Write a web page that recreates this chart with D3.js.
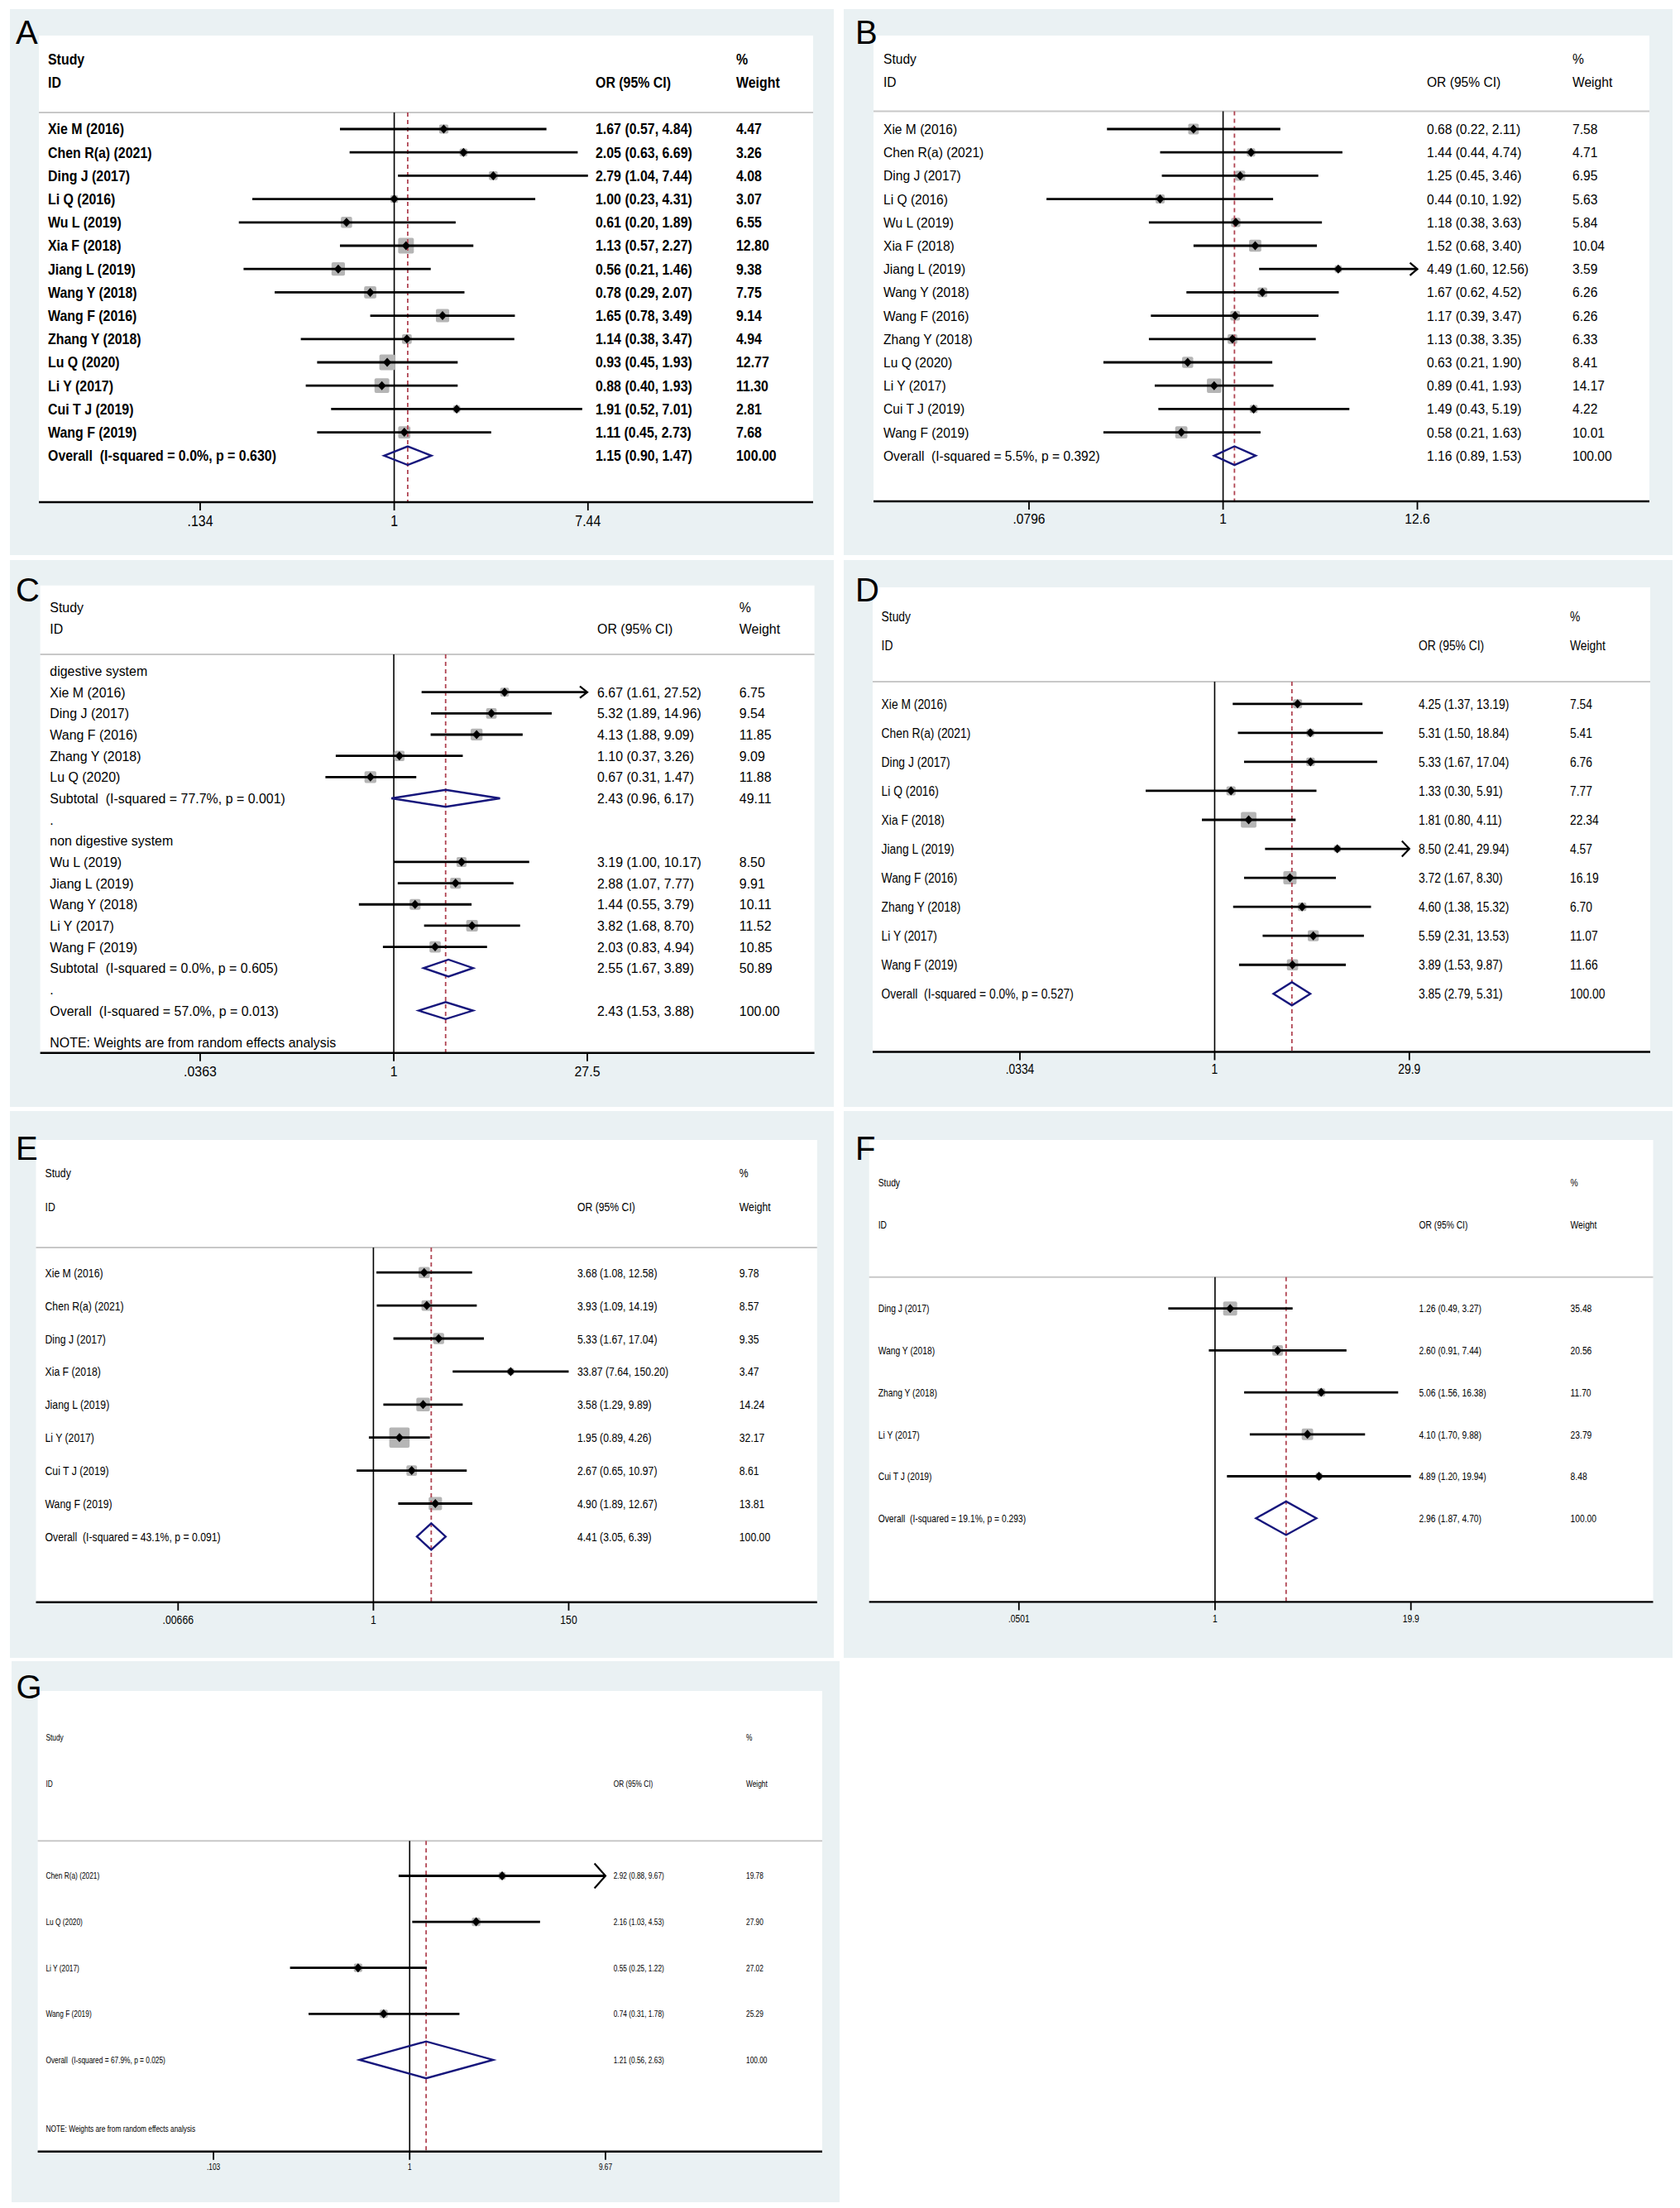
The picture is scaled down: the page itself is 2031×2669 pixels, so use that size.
<!DOCTYPE html>
<html>
<head>
<meta charset="utf-8">
<script src="https://cdn.jsdelivr.net/npm/d3@7"></script>
<style>
  body { margin: 0; background: #fff; }
  svg { display: block; }
</style>
</head>
<body>
<svg id="fig" width="2031" height="2669"></svg>
<script>
// ---------- data ----------

// A
var aStudies = ["Xie M (2016)", "Chen R(a) (2021)", "Ding J (2017)", "Li Q (2016)", "Wu L (2019)", "Xia F (2018)", "Jiang L (2019)",
                "Wang Y (2018)", "Wang F (2016)", "Zhang Y (2018)", "Lu Q (2020)", "Li Y (2017)", "Cui T J (2019)", "Wang F (2019)"];
var aOR = [1.67, 2.05, 2.79, 1.00, 0.61, 1.13, 0.56, 0.78, 1.65, 1.14, 0.93, 0.88, 1.91, 1.11];
var aLo = [0.57, 0.63, 1.04, 0.23, 0.20, 0.57, 0.21, 0.29, 0.78, 0.38, 0.45, 0.40, 0.52, 0.45];
var aHi = [4.84, 6.69, 7.44, 4.31, 1.89, 2.27, 1.46, 2.07, 3.49, 3.47, 1.93, 1.93, 7.01, 2.73];
var aWeight = [4.47, 3.26, 4.08, 3.07, 6.55, 12.80, 9.38, 7.75, 9.14, 4.94, 12.77, 11.30, 2.81, 7.68];
var aOverall = [1.15, 0.90, 1.47];
var aOverallLabel = "Overall  (I-squared = 0.0%, p = 0.630)";
var aTicks = [0.134, 1, 7.44];
var aTickLabels = [".134", "1", "7.44"];

// B
var bStudies = aStudies;
var bOR = [0.68, 1.44, 1.25, 0.44, 1.18, 1.52, 4.49, 1.67, 1.17, 1.13, 0.63, 0.89, 1.49, 0.58];
var bLo = [0.22, 0.44, 0.45, 0.10, 0.38, 0.68, 1.60, 0.62, 0.39, 0.38, 0.21, 0.41, 0.43, 0.21];
var bHi = [2.11, 4.74, 3.46, 1.92, 3.63, 3.40, 12.56, 4.52, 3.47, 3.35, 1.90, 1.93, 5.19, 1.63];
var bWeight = [7.58, 4.71, 6.95, 5.63, 5.84, 10.04, 3.59, 6.26, 6.26, 6.33, 8.41, 14.17, 4.22, 10.01];
var bOverall = [1.16, 0.89, 1.53];
var bOverallLabel = "Overall  (I-squared = 5.5%, p = 0.392)";
var bTicks = [0.0796, 1, 12.6];
var bTickLabels = [".0796", "1", "12.6"];

// C (subgroups)
var cGroups = ["digestive system", "non digestive system"];
var cStudies = ["Xie M (2016)", "Ding J (2017)", "Wang F (2016)", "Zhang Y (2018)", "Lu Q (2020)",
                "Wu L (2019)", "Jiang L (2019)", "Wang Y (2018)", "Li Y (2017)", "Wang F (2019)"];
var cGroupOf = [0, 0, 0, 0, 0, 1, 1, 1, 1, 1];
var cOR = [6.67, 5.32, 4.13, 1.10, 0.67, 3.19, 2.88, 1.44, 3.82, 2.03];
var cLo = [1.61, 1.89, 1.88, 0.37, 0.31, 1.00, 1.07, 0.55, 1.68, 0.83];
var cHi = [27.52, 14.96, 9.09, 3.26, 1.47, 10.17, 7.77, 3.79, 8.70, 4.94];
var cWeight = [6.75, 9.54, 11.85, 9.09, 11.88, 8.50, 9.91, 10.11, 11.52, 10.85];
var cSubOR = [2.43, 2.55];
var cSubLo = [0.96, 1.67];
var cSubHi = [6.17, 3.89];
var cSubWeight = [49.11, 50.89];
var cSubLabel = ["Subtotal  (I-squared = 77.7%, p = 0.001)", "Subtotal  (I-squared = 0.0%, p = 0.605)"];
var cOverall = [2.43, 1.53, 3.88];
var cOverallLabel = "Overall  (I-squared = 57.0%, p = 0.013)";
var cTicks = [0.0363, 1, 27.5];
var cTickLabels = [".0363", "1", "27.5"];

// D
var dStudies = ["Xie M (2016)", "Chen R(a) (2021)", "Ding J (2017)", "Li Q (2016)", "Xia F (2018)", "Jiang L (2019)",
                "Wang F (2016)", "Zhang Y (2018)", "Li Y (2017)", "Wang F (2019)"];
var dOR = [4.25, 5.31, 5.33, 1.33, 1.81, 8.50, 3.72, 4.60, 5.59, 3.89];
var dLo = [1.37, 1.50, 1.67, 0.30, 0.80, 2.41, 1.67, 1.38, 2.31, 1.53];
var dHi = [13.19, 18.84, 17.04, 5.91, 4.11, 29.94, 8.30, 15.32, 13.53, 9.87];
var dWeight = [7.54, 5.41, 6.76, 7.77, 22.34, 4.57, 16.19, 6.70, 11.07, 11.66];
var dOverall = [3.85, 2.79, 5.31];
var dOverallLabel = "Overall  (I-squared = 0.0%, p = 0.527)";
var dTicks = [0.0334, 1, 29.9];
var dTickLabels = [".0334", "1", "29.9"];

// E
var eStudies = ["Xie M (2016)", "Chen R(a) (2021)", "Ding J (2017)", "Xia F (2018)", "Jiang L (2019)", "Li Y (2017)",
                "Cui T J (2019)", "Wang F (2019)"];
var eOR = [3.68, 3.93, 5.33, 33.87, 3.58, 1.95, 2.67, 4.90];
var eLo = [1.08, 1.09, 1.67, 7.64, 1.29, 0.89, 0.65, 1.89];
var eHi = [12.58, 14.19, 17.04, 150.20, 9.89, 4.26, 10.97, 12.67];
var eWeight = [9.78, 8.57, 9.35, 3.47, 14.24, 32.17, 8.61, 13.81];
var eOverall = [4.41, 3.05, 6.39];
var eOverallLabel = "Overall  (I-squared = 43.1%, p = 0.091)";
var eTicks = [0.00666, 1, 150];
var eTickLabels = [".00666", "1", "150"];

// F
var fStudies = ["Ding J (2017)", "Wang Y (2018)", "Zhang Y (2018)", "Li Y (2017)", "Cui T J (2019)"];
var fOR = [1.26, 2.60, 5.06, 4.10, 4.89];
var fLo = [0.49, 0.91, 1.56, 1.70, 1.20];
var fHi = [3.27, 7.44, 16.38, 9.88, 19.94];
var fWeight = [35.48, 20.56, 11.70, 23.79, 8.48];
var fOverall = [2.96, 1.87, 4.70];
var fOverallLabel = "Overall  (I-squared = 19.1%, p = 0.293)";
var fTicks = [0.0501, 1, 19.9];
var fTickLabels = [".0501", "1", "19.9"];

// G
var gStudies = ["Chen R(a) (2021)", "Lu Q (2020)", "Li Y (2017)", "Wang F (2019)"];
var gOR = [2.92, 2.16, 0.55, 0.74];
var gLo = [0.88, 1.03, 0.25, 0.31];
var gHi = [9.67, 4.53, 1.22, 1.78];
var gWeight = [19.78, 27.90, 27.02, 25.29];
var gOverall = [1.21, 0.56, 2.63];
var gOverallLabel = "Overall  (I-squared = 67.9%, p = 0.025)";
var gTicks = [0.103, 1, 9.67];
var gTickLabels = [".103", "1", "9.67"];

var noteText = "NOTE: Weights are from random effects analysis";

// ---------- layout (pixel positions per panel) ----------
var layout = {
  A: { letter: "A", bg: [12, 11, 996, 660], plot: [47, 43, 983, 607], head: 136, studyY: 72, idY: 100,
       row0: 156, step: 28.2, range: [242, 710.8], labX: 58, orX: 720, wX: 890, tickY: 630,
       lx: 19, ly: 53, fs: 17.5, sx: 0.91, bold: true, box: 5.3, arrow: [] },
  B: { letter: "B", bg: [1020, 11, 1002, 660], plot: [1056, 43, 1994, 606], head: 134.6, studyY: 71.4, idY: 99.2,
       row0: 156, step: 28.2, range: [1244, 1713.5], labX: 1068, orX: 1725, wX: 1901, tickY: 627,
       lx: 1034, ly: 53, fs: 16.5, sx: 0.945, bold: false, box: 4.65, arrow: [6] },
  C: { letter: "C", bg: [12, 677, 996, 661], plot: [48.6, 707.7, 984.6, 1272.8], head: 791, studyY: 733.7, idY: 759.8,
       row0: 811, step: 25.66, range: [242, 710], labX: 60.3, orX: 722, wX: 893.8, tickY: 1294.5,
       lx: 19, ly: 727, fs: 16.8, sx: 0.95, bold: false, box: 4.15, arrow: [0] },
  D: { letter: "D", bg: [1020, 677, 1002, 661], plot: [1055, 710, 1995, 1271.5], head: 824, studyY: 745.4, idY: 780.6,
       row0: 850.8, step: 35.05, range: [1233, 1703.8], labX: 1065.6, orX: 1715, wX: 1898, tickY: 1292.3,
       lx: 1034, ly: 727, fs: 16.3, sx: 0.85, bold: false, box: 3.98, arrow: [5] },
  E: { letter: "E", bg: [12, 1343, 996, 661], plot: [43.5, 1378, 987.8, 1936.8], head: 1508, studyY: 1417.7, idY: 1458.6,
       row0: 1538.2, step: 39.9, range: [215.3, 687.5], labX: 54.5, orX: 697.9, wX: 893.8, tickY: 1957,
       lx: 19, ly: 1401.7, fs: 15.5, sx: 0.79, bold: false, box: 4.34, arrow: [] },
  F: { letter: "F", bg: [1020, 1343, 1002, 661], plot: [1050.7, 1378, 1998.5, 1936.4], head: 1543.8, studyY: 1429.7, idY: 1480.5,
       row0: 1581.7, step: 50.7, range: [1231.8, 1705.7], labX: 1061.7, orX: 1715.5, wX: 1898.6, tickY: 1956,
       lx: 1034, ly: 1401.7, fs: 13.2, sx: 0.78, bold: false, box: 2.84, arrow: [] },
  G: { letter: "G", bg: [14, 2008, 1001, 654], plot: [45.6, 2044, 994, 2600.8], head: 2225.3, studyY: 2100.3, idY: 2156.6,
       row0: 2267.5, step: 55.6, range: [258.1, 732], labX: 55.4, orX: 741.7, wX: 902, tickY: 2619.6,
       lx: 19.6, ly: 2053.3, fs: 10.7, sx: 0.78, bold: false, box: 1.97, arrow: [0] }
};

var FONT = "'Liberation Sans', Arial, Helvetica, sans-serif";
var BG = "#eaf1f3", BOX = "#b5b5b5", NAVY = "#16167c", RED = "#b04452";
var fmt = d3.format(".2f");
var svg = d3.select("#fig");

////////////
// HELPERS
////////////

// rows for a plain (no subgroup) meta-analysis
function plainRows(studies, or, lo, hi, wt, overall, overallLabel) {
  var rows = studies.map(function (s, i) {
    return { kind: "study", idx: i, label: s, es: or[i], lo: lo[i], hi: hi[i], w: wt[i] };
  });
  rows.push({ kind: "overall", label: overallLabel, es: overall[0], lo: overall[1], hi: overall[2], w: 100 });
  return rows;
}

// narrow-looking Stata text: scale horizontally around its anchor
function txt(g, L, x, y, s, anchor, bold) {
  return g.append("text")
    .attr("transform", "translate(" + x + "," + y + ") scale(" + L.sx + ",1)")
    .attr("dy", "0.36em")
    .attr("text-anchor", anchor || "start")
    .style("font-family", FONT)
    .style("font-size", L.fs + "px")
    .style("font-weight", bold ? "bold" : "normal")
    .style("white-space", "pre")
    .attr("fill", "#000")
    .text(s);
}

function drawPanel(L, rows, ticks, tickLabels, withNote) {
  var g = svg.append("g");
  var P = L.plot;

  g.append("rect").attr("x", L.bg[0]).attr("y", L.bg[1]).attr("width", L.bg[2]).attr("height", L.bg[3]).attr("fill", BG);
  g.append("rect").attr("x", P[0]).attr("y", P[1]).attr("width", P[2] - P[0]).attr("height", P[3] - P[1]).attr("fill", "#fff");

  g.append("line").attr("x1", P[0]).attr("x2", P[2]).attr("y1", L.head).attr("y2", L.head)
    .attr("stroke", "#c8c8c8").attr("stroke-width", 2);

  var lo = ticks[0], hi = ticks[ticks.length - 1];
  var x = d3.scaleLog().domain([lo, hi]).range(L.range);
  var yRow = function (i) { return L.row0 + i * L.step; };
  rows.forEach(function (r, i) { r.y = yRow(i); });

  // line of no effect
  g.append("line").attr("x1", x(1)).attr("x2", x(1)).attr("y1", L.head).attr("y2", P[3])
    .attr("stroke", "#000").attr("stroke-width", 1.6);

  var studies = rows.filter(function (r) { return r.kind === "study"; });
  var overall = rows.filter(function (r) { return r.kind === "overall"; })[0];

  // weight boxes
  g.selectAll(".box").data(studies).enter().append("rect")
    .attr("x", function (d) { return x(d.es) - L.box * Math.sqrt(d.w) / 2; })
    .attr("y", function (d) { return d.y - L.box * Math.sqrt(d.w) / 2; })
    .attr("width", function (d) { return L.box * Math.sqrt(d.w); })
    .attr("height", function (d) { return L.box * Math.sqrt(d.w); })
    .attr("rx", 2)
    .attr("fill", BOX);

  // overall effect, dashed
  g.append("line").attr("x1", x(overall.es)).attr("x2", x(overall.es)).attr("y1", L.head).attr("y2", P[3])
    .attr("stroke", RED).attr("stroke-width", 1.8).attr("stroke-dasharray", "5,4");

  // confidence intervals
  g.selectAll(".ci").data(studies).enter().append("line")
    .attr("x1", function (d) { return x(Math.max(d.lo, lo)); })
    .attr("x2", function (d) { return x(Math.min(d.hi, hi)); })
    .attr("y1", function (d) { return d.y; })
    .attr("y2", function (d) { return d.y; })
    .attr("stroke", "#000").attr("stroke-width", 2.8);

  // arrows for truncated intervals
  var ah = 0.27 * L.step, al = Math.max(9, 0.24 * L.step);
  g.selectAll(".arr").data(studies.filter(function (d) { return L.arrow.indexOf(d.idx) >= 0; }))
    .enter().append("path")
    .attr("d", function (d) {
      var xt = x(hi);
      return "M" + (xt - al) + "," + (d.y - ah) + "L" + xt + "," + d.y + "L" + (xt - al) + "," + (d.y + ah);
    })
    .attr("fill", "none").attr("stroke", "#000").attr("stroke-width", 2.2);

  // point estimates
  g.selectAll(".pt").data(studies).enter().append("path")
    .attr("d", function (d) {
      var cx = x(d.es), w = 5, h = 5.5;
      return "M" + (cx - w) + "," + d.y + "L" + cx + "," + (d.y - h) + "L" + (cx + w) + "," + d.y + "L" + cx + "," + (d.y + h) + "Z";
    })
    .attr("fill", "#000");

  // pooled diamonds
  var dh = 0.4 * L.step;
  g.selectAll(".dia").data(rows.filter(function (r) { return r.kind === "sub" || r.kind === "overall"; }))
    .enter().append("path")
    .attr("d", function (d) {
      return "M" + x(d.lo) + "," + d.y + "L" + x(d.es) + "," + (d.y - dh) + "L" + x(d.hi) + "," + d.y +
             "L" + x(d.es) + "," + (d.y + dh) + "Z";
    })
    .attr("fill", "none").attr("stroke", NAVY).attr("stroke-width", 2.4);

  // table text
  txt(g, L, L.labX, L.studyY, "Study", "start", L.bold);
  txt(g, L, L.labX, L.idY, "ID", "start", L.bold);
  txt(g, L, L.orX, L.idY, "OR (95% CI)", "start", L.bold);
  txt(g, L, L.wX, L.studyY, "%", "start", L.bold);
  txt(g, L, L.wX, L.idY, "Weight", "start", L.bold);

  rows.forEach(function (r) {
    txt(g, L, L.labX, r.y, r.label, "start", L.bold);
    if (r.kind === "study" || r.kind === "sub" || r.kind === "overall") {
      txt(g, L, L.orX, r.y, fmt(r.es) + " (" + fmt(r.lo) + ", " + fmt(r.hi) + ")", "start", L.bold);
      txt(g, L, L.wX, r.y, fmt(r.w), "start", L.bold);
    }
  });
  if (withNote) txt(g, L, L.labX, yRow(rows.length - 1 + 1.5), noteText, "start", L.bold);

  // x axis
  g.append("line").attr("x1", P[0]).attr("x2", P[2]).attr("y1", P[3]).attr("y2", P[3])
    .attr("stroke", "#000").attr("stroke-width", 2.4);
  ticks.forEach(function (t, i) {
    g.append("line").attr("x1", x(t)).attr("x2", x(t)).attr("y1", P[3]).attr("y2", P[3] + 10)
      .attr("stroke", "#000").attr("stroke-width", 1.8);
    txt(g, L, x(t), L.tickY, tickLabels[i], "middle", false);
  });

  // panel letter
  g.append("text").attr("x", L.lx).attr("y", L.ly)
    .style("font-family", FONT).style("font-size", "40px").attr("fill", "#000")
    .text(L.letter);
}

// ---------- build rows and draw ----------
var cRows = [];
cGroups.forEach(function (grp, gi) {
  cRows.push({ kind: "head", label: grp });
  cStudies.forEach(function (s, i) {
    if (cGroupOf[i] === gi) cRows.push({ kind: "study", idx: i, label: s, es: cOR[i], lo: cLo[i], hi: cHi[i], w: cWeight[i] });
  });
  cRows.push({ kind: "sub", label: cSubLabel[gi], es: cSubOR[gi], lo: cSubLo[gi], hi: cSubHi[gi], w: cSubWeight[gi] });
  cRows.push({ kind: "blank", label: "." });
});
cRows.push({ kind: "overall", label: cOverallLabel, es: cOverall[0], lo: cOverall[1], hi: cOverall[2], w: 100 });

drawPanel(layout.A, plainRows(aStudies, aOR, aLo, aHi, aWeight, aOverall, aOverallLabel), aTicks, aTickLabels, false);
drawPanel(layout.B, plainRows(bStudies, bOR, bLo, bHi, bWeight, bOverall, bOverallLabel), bTicks, bTickLabels, false);
drawPanel(layout.C, cRows, cTicks, cTickLabels, true);
drawPanel(layout.D, plainRows(dStudies, dOR, dLo, dHi, dWeight, dOverall, dOverallLabel), dTicks, dTickLabels, false);
drawPanel(layout.E, plainRows(eStudies, eOR, eLo, eHi, eWeight, eOverall, eOverallLabel), eTicks, eTickLabels, false);
drawPanel(layout.F, plainRows(fStudies, fOR, fLo, fHi, fWeight, fOverall, fOverallLabel), fTicks, fTickLabels, false);
drawPanel(layout.G, plainRows(gStudies, gOR, gLo, gHi, gWeight, gOverall, gOverallLabel), gTicks, gTickLabels, true);
</script>
</body>
</html>
